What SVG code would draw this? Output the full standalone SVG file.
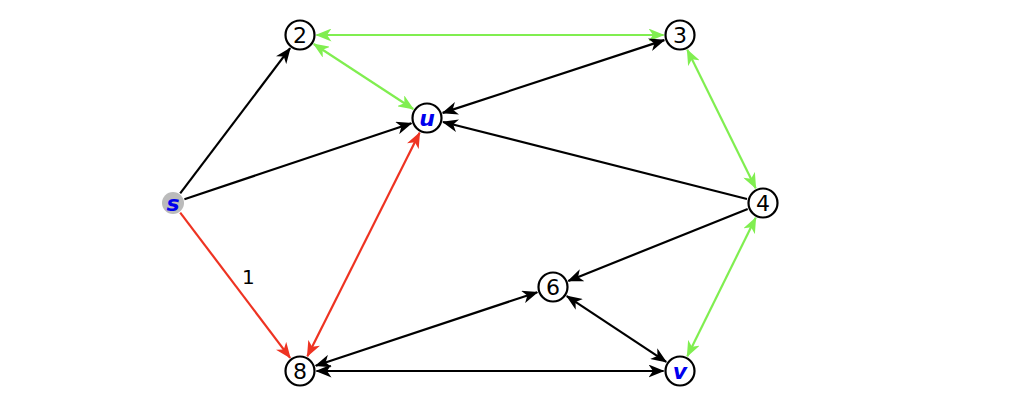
<svg xmlns="http://www.w3.org/2000/svg" width="1020" height="420" viewBox="0 0 1020 420">
<style>
.n circle{fill:#fff;stroke:#000;stroke-width:2.2}
.n text{font-family:"DejaVu Sans","Liberation Sans",sans-serif;font-size:22px;text-anchor:middle;dominant-baseline:central;fill:#000}
.n text.b{fill:#0000ee;font-style:italic;font-weight:bold}
.e line{stroke-width:2.2;fill:none}
.k{stroke:#000}
.g{stroke:#80ee50}
.r{stroke:#ee3322}
.lbl{font-family:"DejaVu Sans","Liberation Sans",sans-serif;font-size:20px;fill:#000}
</style>
<defs>
<marker id="ak" viewBox="0 0 16 13" refX="15" refY="6.5" markerWidth="16" markerHeight="13" markerUnits="userSpaceOnUse" orient="auto-start-reverse"><path d="M0,0 L16,6.5 L0,13 L4.5,6.5 Z" fill="#000"/></marker>
<marker id="ag" viewBox="0 0 16 13" refX="15" refY="6.5" markerWidth="16" markerHeight="13" markerUnits="userSpaceOnUse" orient="auto-start-reverse"><path d="M0,0 L16,6.5 L0,13 L4.5,6.5 Z" fill="#80ee50"/></marker>
<marker id="ar" viewBox="0 0 16 13" refX="15" refY="6.5" markerWidth="16" markerHeight="13" markerUnits="userSpaceOnUse" orient="auto-start-reverse"><path d="M0,0 L16,6.5 L0,13 L4.5,6.5 Z" fill="#ee3322"/></marker>
</defs>
<rect width="1020" height="420" fill="#fff"/>
<g id="edges" class="e">
<line class="k" x1="180.2" y1="193.4" x2="290.1" y2="48.2" marker-end="url(#ak)"/>
<line class="k" x1="184.4" y1="199.2" x2="411.4" y2="123.2" marker-end="url(#ak)"/>
<line class="r" x1="180.2" y1="212.6" x2="290.1" y2="357.8" marker-end="url(#ar)"/>
<line class="r" x1="307.4" y1="356.2" x2="419.6" y2="132.8" marker-start="url(#ar)" marker-end="url(#ar)"/>
<line class="g" x1="316.5" y1="35" x2="663.5" y2="35" marker-start="url(#ag)" marker-end="url(#ag)"/>
<line class="g" x1="313.8" y1="44.0" x2="413.2" y2="109.0" marker-start="url(#ag)" marker-end="url(#ag)"/>
<line class="k" x1="442.7" y1="112.9" x2="664.3" y2="40.1" marker-start="url(#ak)" marker-end="url(#ak)"/>
<line class="k" x1="747.0" y1="199.0" x2="443.0" y2="122.0" marker-end="url(#ak)"/>
<line class="g" x1="687.3" y1="49.8" x2="755.7" y2="188.2" marker-start="url(#ag)" marker-end="url(#ag)"/>
<line class="k" x1="747.7" y1="209.1" x2="568.3" y2="280.9" marker-end="url(#ak)"/>
<line class="g" x1="755.7" y1="217.8" x2="687.3" y2="356.2" marker-start="url(#ag)" marker-end="url(#ag)"/>
<line class="k" x1="566.8" y1="296.1" x2="666.2" y2="361.9" marker-start="url(#ak)" marker-end="url(#ak)"/>
<line class="k" x1="315.7" y1="365.8" x2="537.3" y2="292.2" marker-start="url(#ak)" marker-end="url(#ak)"/>
<line class="k" x1="316.5" y1="371" x2="663.5" y2="371" marker-start="url(#ak)" marker-end="url(#ak)"/>
<text class="lbl" x="242" y="284">1</text>
</g>
<g id="node-s" class="n"><circle cx="173" cy="203" r="11" style="fill:#bbbbbb;stroke:none"/><text class="b" x="173" y="203">s</text></g>
<g id="node-2" class="n"><circle cx="300" cy="35" r="14.5"/><text x="300" y="35">2</text></g>
<g id="node-3" class="n"><circle cx="680" cy="35" r="14.5"/><text x="680" y="35">3</text></g>
<g id="node-u" class="n"><circle cx="427" cy="118" r="14.5"/><text class="b" x="427" y="118">u</text></g>
<g id="node-4" class="n"><circle cx="763" cy="203" r="14.5"/><text x="763" y="203">4</text></g>
<g id="node-6" class="n"><circle cx="553" cy="287" r="14.5"/><text x="553" y="287">6</text></g>
<g id="node-8" class="n"><circle cx="300" cy="371" r="14.5"/><text x="300" y="371">8</text></g>
<g id="node-v" class="n"><circle cx="680" cy="371" r="14.5"/><text class="b" x="680" y="371">v</text></g>
</svg>
